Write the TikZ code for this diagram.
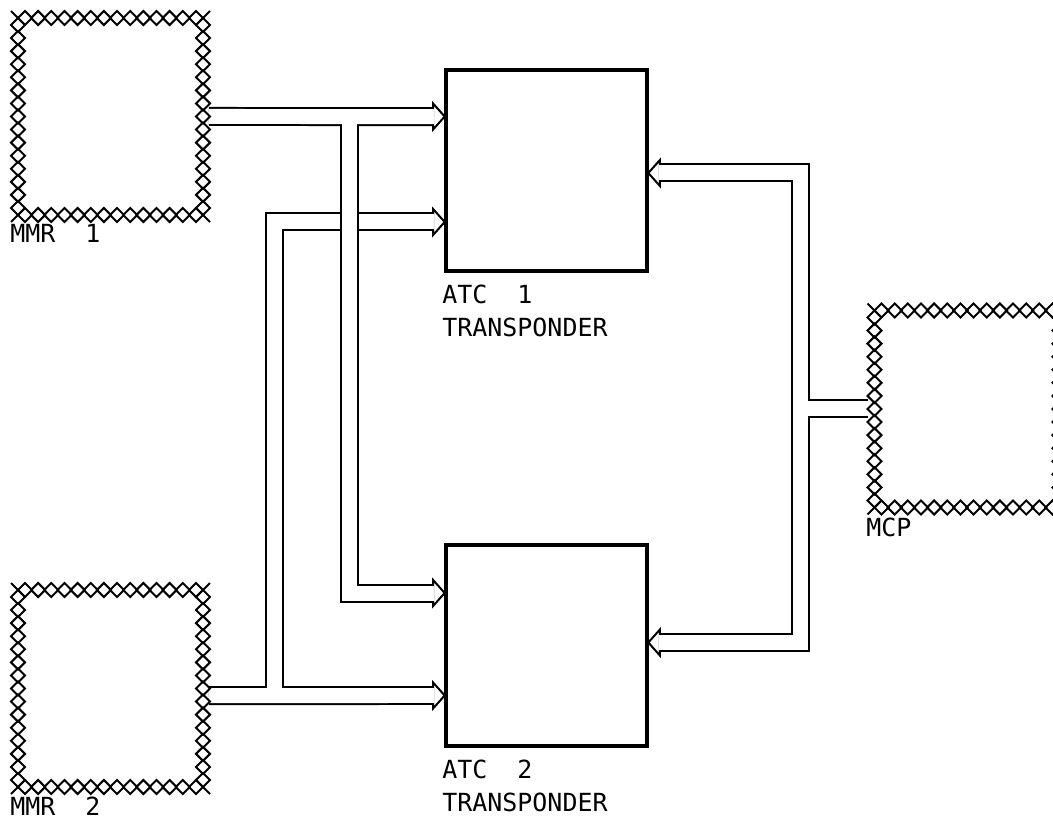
\documentclass[tikz,border=0pt]{standalone}
\usepackage{fontspec}
\setmonofont{DejaVu Sans Mono}
\usetikzlibrary{arrows.meta}
\tikzset{
    atcbox/.style={draw, line width=0.08cm, minimum width=4.02cm, minimum height=4.02cm, outer sep=0pt},
    hatchbox/.style={minimum width=3.7cm, minimum height=3.94cm, inner sep=0pt, outer sep=0pt},
    hatchline/.style={line width=0.04cm},
    boxlabel/.style={font=\ttfamily\fontsize{14.2}{18.7}\selectfont, inner sep=0pt, align=left},
    pipeback/.style={line width=0.38cm, line join=miter,
        -{Triangle[open, fill=white, length=0.28cm, width=0.62cm, line width=0.04cm]}},
    pipefront/.style={white, line width=0.3cm, line join=miter, shorten >=0.24cm}
}
\newcommand{\hatchborder}[1]{%
    \begin{scope}[shift={(#1.center)}]
    \foreach \py in {-98.5,98.5} \foreach \k in {0,...,13} {
        \pgfmathsetmacro{\px}{-85.5+\k*13.15}
        \draw[hatchline] (\px,\py) ++(-7,0) -- ++(7,-7) -- ++(7,7) -- ++(-7,7) -- cycle;
    }
    \foreach \px in {-92.5,92.5} \foreach \k in {0,...,14} {
        \pgfmathsetmacro{\py}{-91.5+\k*13.07}
        \draw[hatchline] (\px,\py) ++(-7,0) -- ++(7,-7) -- ++(7,7) -- ++(-7,7) -- cycle;
    }
    \foreach \sx/\sy in {-1/-1,1/-1,-1/1,1/1}
        \draw[hatchline] (\sx*92.5,\sy*98.5) -- ++(\sx*7,\sy*7);
    \end{scope}
}
\begin{document}
\begin{tikzpicture}[x=0.02cm, y=-0.02cm]
\path[use as bounding box, clip] (0,0) rectangle (1053,817);
\node[hatchbox] (mmr1) at (110.5,116.5) {};
\node[hatchbox] (mmr2) at (110.5,688.5) {};
\node[hatchbox] (mcp) at (967,409) {};
\node[atcbox] (atc1) at (546.5,170.5) {};
\node[atcbox] (atc2) at (546.5,645.5) {};
\node[boxlabel, anchor=base west] (mmr1lbl) at (10,243) {MMR~~1};
\node[boxlabel, anchor=base west] (mmr2lbl) at (10,815) {MMR~~2};
\node[boxlabel, anchor=base west] (mcplbl) at (866,536) {MCP};
\node[boxlabel, anchor=north west] (atc1lbl) at (442,285) {ATC~~1\\TRANSPONDER};
\node[boxlabel, anchor=north west] (atc2lbl) at (442,760) {ATC~~2\\TRANSPONDER};
% pipe ends
\coordinate (mmr1out) at ([xshift=0.12cm]mmr1.east);
\coordinate (mmr2out) at ([shift={(0.12cm,-0.14cm)}]mmr2.east);
\coordinate (mcpout) at ([shift={(-0.14cm,0.02cm)}]mcp.west);
\coordinate (atc1a) at ([yshift=1.08cm]atc1.west);
\coordinate (atc1b) at ([yshift=-1.03cm]atc1.west);
\coordinate (atc1c) at ([yshift=-0.05cm]atc1.east);
\coordinate (atc2a) at ([yshift=1.05cm]atc2.west);
\coordinate (atc2b) at ([yshift=-1cm]atc2.west);
\coordinate (atc2c) at ([yshift=0.06cm]atc2.east);
\coordinate (bus1) at (349.5,116.5);
\coordinate (bus2) at (274.5,695.5);
\coordinate (bus3) at (800.5,408);
% MMR 2 pipes
\draw[pipeback] (mmr2out) -- (atc2b);
\draw[pipeback] (bus2) |- (atc1b);
\draw[pipefront] (mmr2out) -- (atc2b);
\draw[pipefront] (bus2) |- (atc1b);
% MMR 1 pipes
\draw[pipeback] (mmr1out) -- (atc1a);
\draw[pipeback] (bus1) |- (atc2a);
\draw[pipefront] (mmr1out) -- (atc1a);
\draw[pipefront] (bus1) |- (atc2a);
% MCP pipes
\draw[pipeback] (mcpout) -- (bus3) |- (atc1c);
\draw[pipeback] (bus3) |- (atc2c);
\draw[pipefront] (mcpout) -- (bus3) |- (atc1c);
\draw[pipefront] (bus3) |- (atc2c);
\hatchborder{mmr1}
\hatchborder{mmr2}
\hatchborder{mcp}
\end{tikzpicture}
\end{document}
